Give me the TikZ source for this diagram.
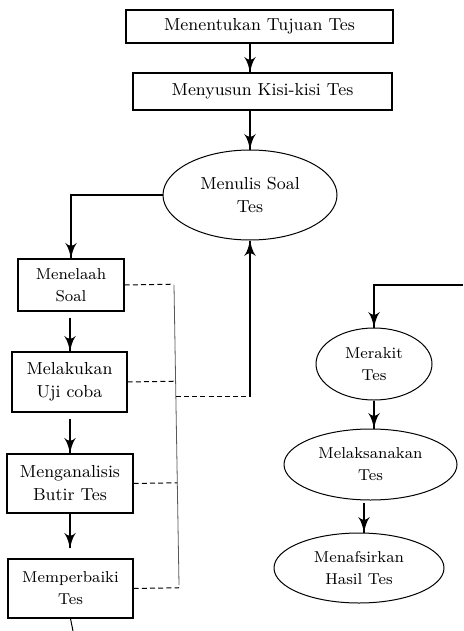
\documentclass[tikz,border=0pt]{standalone}
\usepackage{tikz}
\usetikzlibrary{arrows}
\usetikzlibrary{decorations.markings}
\usetikzlibrary{shapes.geometric}
\usetikzlibrary{calc}
\tikzset{->/.style = {decoration={markings,
                                  mark=at position 1 with {\arrow[scale=1.5]{latex'}}},
                      postaction={decorate}}}
\tikzset{kotak/.style = {draw, rectangle, line width=0.6pt, align=center,
                         inner sep=0pt, font=\fontsize{8.7}{11.5}\selectfont}}
\tikzset{bulat/.style = {draw, ellipse, line width=0.5pt, align=center,
                         inner sep=0pt, font=\fontsize{8.7}{11.5}\selectfont}}
\tikzset{kecil/.style = {font=\fontsize{7.9}{11}\selectfont}}
\tikzset{putus/.style = {line width=0.5pt, dash pattern=on 2.5pt off 1.6pt}}

\begin{document}
\begin{tikzpicture}[x=0.5pt, y=-0.5pt, line width=0.8pt]
    \useasboundingbox (0, 0) rectangle (463, 631);

    \node [kotak, minimum width=133.5pt, minimum height=16.5pt] (tujuan) at (259.5, 26.5) {Menentukan Tujuan Tes};
    \node [kotak, minimum width=129.5pt, minimum height=18.5pt] (kisi) at (262.5, 91.5) {Menyusun Kisi-kisi Tes};
    \node [bulat, minimum width=87pt, minimum height=45pt] (menulis) at (250, 195) {Menulis Soal\\Tes};

    \node [kotak, kecil, minimum width=53pt, minimum height=26pt] (telaah) at (71, 285) {Menelaah\\Soal};
    \node [kotak, minimum width=57.5pt, minimum height=30pt] (ujicoba) at (69.5, 382) {Melakukan\\Uji coba};
    \node [kotak, minimum width=63pt, minimum height=29.5pt] (analisis) at (70, 483.5) {Menganalisis\\Butir Tes};
    \node [kotak, kecil, minimum width=62.5pt, minimum height=29.5pt] (perbaiki) at (70.5, 588.5) {Memperbaiki\\Tes};

    \node [bulat, kecil, minimum width=58pt, minimum height=36pt] (rakit) at (374, 364) {Merakit\\Tes};
    \node [bulat, kecil, minimum width=86.5pt, minimum height=35.5pt] (laksana) at (370.5, 464.5) {Melaksanakan\\Tes};
    \node [bulat, kecil, minimum width=85pt, minimum height=35pt] (tafsir) at (359, 568) {Menafsirkan\\Hasil Tes};

    \coordinate (rel1) at (174, 285);
    \coordinate (rel2) at (179, 585);
    \coordinate (tap) at ($(rel1)!0.373!(rel2)$);
    \coordinate (masuk) at (463, 285);
    \coordinate (lanjut) at (73, 631);

    % alur utama
    \draw [->] (tujuan.south -| menulis) -- (kisi.north -| menulis);
    \draw [->] (kisi.south -| menulis) -- (menulis.north);
    \draw [->] (menulis.west) -| (telaah.north);
    \draw [->, shorten <=3pt] (telaah.south -| analisis) -- (ujicoba.north -| analisis);
    \draw [->, shorten <=3pt] (ujicoba.south -| analisis) -- (analisis.north);
    \draw [->] (analisis.south) -- ($(analisis.south |- perbaiki.north)+(0, -10)$);
    \draw [line width=0.5pt] (perbaiki.south) -- (lanjut);

    % umpan balik
    \draw [line width=0.4pt, gray!70!black] (rel1) -- (rel2);
    \foreach \n in {telaah, ujicoba, analisis, perbaiki} {
      \draw [putus] (\n.east) -- ($(rel1)!(\n.east)!(rel2)$);
    }
    \draw [putus] (tap) -- (tap -| menulis.south);
    \draw [->] (tap -| menulis.south) -- (menulis.south);

    % kolom kanan
    \draw [->] (masuk) -| (rakit.north);
    \draw [->] (rakit.south) -- (rakit.south |- laksana.north);
    \draw [->] ($(laksana.south)+(-6.5, 2)$) -- ($(laksana.south |- tafsir.north)+(-6.5, 0)$);
  \end{tikzpicture}
\end{document}
